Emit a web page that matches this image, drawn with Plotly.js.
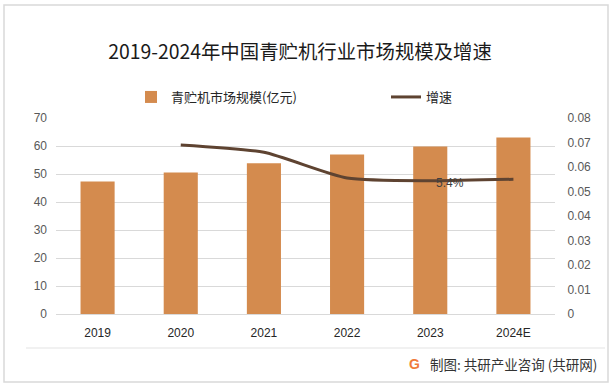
<!DOCTYPE html>
<html>
<head>
<meta charset="utf-8">
<script src="https://cdn.plot.ly/plotly-3.0.1.min.js"></script>
<style>html,body{margin:0;padding:0;background:#fff;}#chart{width:615px;height:389px;}</style>
</head>
<body>
<div id="chart"></div>
<script>
// ---- data ----
const years = ['2019', '2020', '2021', '2022', '2023', '2024E'];
const marketSize = [47.3, 50.5, 53.8, 57.0, 59.8, 63.0];          // 亿元
const growthYears = ['2020', '2021', '2022', '2023', '2024E'];
const growthRate = [0.069, 0.066, 0.0555, 0.0544, 0.055];
const labelYear = '2023';
const labelValue = 0.0544;
const labelText = '5.4%';
const leftTicks = [0, 10, 20, 30, 40, 50, 60, 70];
const rightTicks = [0, 0.01, 0.02, 0.03, 0.04, 0.05, 0.06, 0.07, 0.08];
const rightTickText = ['0', '0.01', '0.02', '0.03', '0.04', '0.05', '0.06', '0.07', '0.08'];

// ---- layout helpers (pixel -> paper) ----
const W = 615, H = 389;
const L = 56, R = 555, T = 118, B = 314;
const px = x => (x - L) / (R - L);
const py = y => (B - y) / (B - T);

const FONT = '"Noto Sans CJK SC", "Liberation Sans", sans-serif';
const NUMFONT = '"Liberation Sans", "DejaVu Sans", sans-serif';

const traces = [
  {
    type: 'bar',
    x: years,
    y: marketSize,
    name: '青贮机市场规模(亿元)',
    marker: {color: '#D48B4E'},
    legend: 'legend',
    hoverinfo: 'skip'
  },
  {
    type: 'scatter',
    mode: 'lines',
    x: growthYears,
    y: growthRate,
    yaxis: 'y2',
    name: '增速',
    legend: 'legend2',
    line: {color: '#5E4331', width: 3, shape: 'spline', smoothing: 0.6},
    hoverinfo: 'skip'
  }
];

const legendBase = {
  orientation: 'h',
  xanchor: 'left',
  y: py(97), yanchor: 'middle',
  font: {family: FONT, size: 13, color: '#262626'},
  itemwidth: 30,
  bgcolor: 'rgba(0,0,0,0)'
};

const layout = {
  width: W,
  height: H,
  margin: {l: L, r: W - R, t: T, b: H - B, pad: 0},
  paper_bgcolor: '#ffffff',
  plot_bgcolor: '#ffffff',
  font: {family: FONT, color: '#404040', size: 12},
  title: {
    text: '2019-2024年中国青贮机行业市场规模及增速',
    font: {family: FONT, size: 19.4, color: '#1a1a1a'},
    x: 300 / W, xref: 'container', xanchor: 'center',
    y: 1 - 52 / H, yref: 'container', yanchor: 'middle'
  },
  bargap: 0.59,
  showlegend: true,
  legend: Object.assign({}, legendBase, {x: px(131)}),
  legend2: Object.assign({}, legendBase, {x: px(386)}),
  xaxis: {
    type: 'category',
    categoryarray: years,
    categoryorder: 'array',
    range: [-0.5, years.length - 0.5],
    tickfont: {family: NUMFONT, size: 12, color: '#262626'},
    ticks: '',
    ticklabelstandoff: 10,
    showline: false,
    showgrid: false,
    zeroline: false,
    fixedrange: true
  },
  yaxis: {
    range: [0, 70],
    tickvals: leftTicks,
    tickfont: {family: NUMFONT, size: 12, color: '#595959'},
    showgrid: true,
    gridcolor: '#D9D9D9',
    gridwidth: 1,
    zeroline: true,
    zerolinecolor: '#D9D9D9',
    zerolinewidth: 1,
    showline: false,
    ticks: '',
    ticklabelstandoff: 8,
    fixedrange: true
  },
  yaxis2: {
    overlaying: 'y',
    side: 'right',
    range: [0, 0.08],
    tickvals: rightTicks,
    ticktext: rightTickText,
    tickfont: {family: NUMFONT, size: 12, color: '#595959'},
    showgrid: false,
    zeroline: false,
    showline: false,
    ticks: 'outside',
    ticklen: 9,
    tickcolor: 'rgba(0,0,0,0)',
    fixedrange: true
  },
  annotations: [
    {
      xref: 'x', yref: 'y2', x: years.indexOf(labelYear), y: labelValue,
      text: labelText, showarrow: false,
      xanchor: 'center', yanchor: 'middle', xshift: 20, yshift: -2,
      font: {family: NUMFONT, size: 12, color: '#404040'}
    },
    {
      xref: 'paper', yref: 'paper', x: px(599), y: py(364),
      xanchor: 'right', yanchor: 'middle', showarrow: false,
      text: '制图: 共研产业咨询 (共研网)',
      font: {family: FONT, size: 13.5, color: '#333333'}
    },
    {
      xref: 'paper', yref: 'paper', x: px(414), y: py(364),
      xanchor: 'center', yanchor: 'middle', showarrow: false,
      text: '<b>G</b>',
      font: {family: NUMFONT, size: 14, color: '#F07A3A'}
    }
  ],
  shapes: [
    {
      type: 'rect', xref: 'paper', yref: 'paper', layer: 'below',
      x0: px(4), x1: px(608), y0: py(382), y1: py(5),
      line: {color: '#D9D9D9', width: 1.5}, fillcolor: 'rgba(0,0,0,0)'
    },
    {
      type: 'line', xref: 'paper', yref: 'paper', layer: 'below',
      x0: px(26), x1: px(605), y0: py(348), y1: py(348),
      line: {color: '#E3E3E3', width: 1}
    }
  ]
};

Plotly.newPlot('chart', traces, layout, {staticPlot: true, displayModeBar: false});
</script>
</body>
</html>
